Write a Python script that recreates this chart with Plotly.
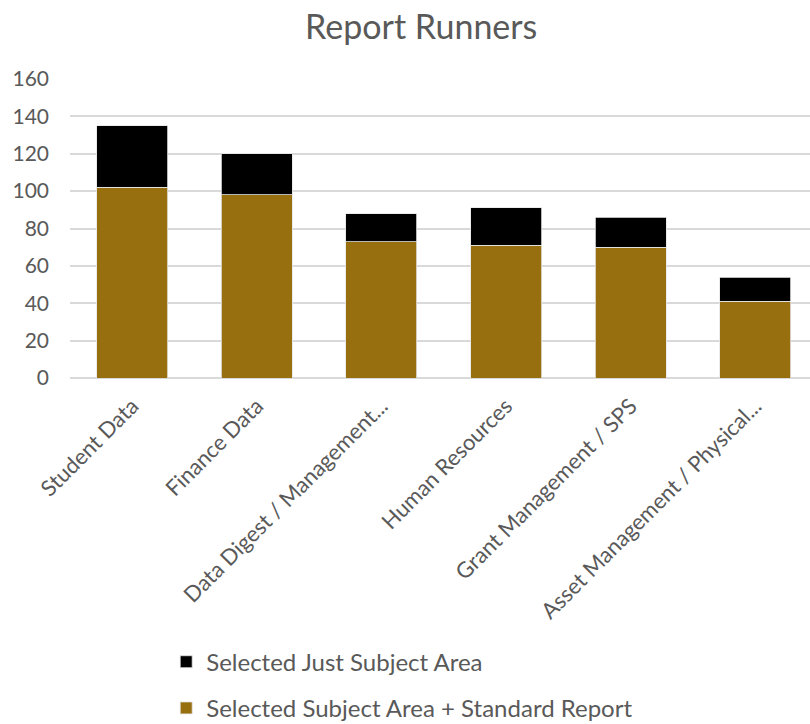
import plotly.graph_objects as go

categories = ["Student Data", "Finance Data", "Data Digest / Management...",
              "Human Resources", "Grant Management / SPS", "Asset Management / Physical..."]
subject_plus_report = [102, 98, 73, 71, 70, 41]
just_subject = [33, 22, 15, 20, 16, 13]
y_ticks = [0, 20, 40, 60, 80, 100, 120, 140, 160]

FONT = "Lato"
GRAY = "#595959"

fig = go.Figure()
fig.add_trace(go.Bar(
    x=categories, y=subject_plus_report, name="Selected Subject Area + Standard Report",
    marker=dict(color="#986F0F", line=dict(color="#e6e6e6", width=0.8)),
    width=0.57, legendgroup="b", legendrank=2,
))
fig.add_trace(go.Bar(
    x=categories, y=just_subject, name="Selected Just Subject Area",
    marker=dict(color="#000000", line=dict(color="#e6e6e6", width=0.8)),
    width=0.57, legendgroup="a", legendrank=1,
))

fig.update_layout(
    width=810, height=724,
    barmode="stack",
    plot_bgcolor="white", paper_bgcolor="white",
    margin=dict(l=70, r=0, t=79, b=346, autoexpand=False),
    font=dict(family=FONT, color=GRAY),
    title=dict(text="Report Runners", x=0.52, xanchor="center", y=0.963, yanchor="middle",
               font=dict(size=34, color=GRAY, family=FONT)),
    showlegend=True,
    legend=dict(orientation="v", x=0.13, xanchor="left", y=-0.875, yanchor="top",
                font=dict(size=24, color=GRAY, family=FONT),
                traceorder="grouped", tracegroupgap=12,
                itemwidth=30),
    xaxis=dict(range=[-0.5, 5.44], tickangle=-45, showgrid=False, automargin=False,
               tickfont=dict(size=22, color=GRAY, family=FONT), ticks="",
               showline=False, ticklabelstandoff=10),
    yaxis=dict(range=[0, 160], tickvals=y_ticks, showgrid=True, gridcolor="#d9d9d9",
               gridwidth=1.5, zeroline=True, zerolinecolor="#d9d9d9", zerolinewidth=1.5,
               automargin=False,
               tickfont=dict(size=21, color=GRAY, family=FONT), ticks="", ticklabelstandoff=20),
)

fig.write_html("out.html", config={"displayModeBar": False},
               post_script="document.body.style.margin='0';document.body.style.overflow='hidden';")
